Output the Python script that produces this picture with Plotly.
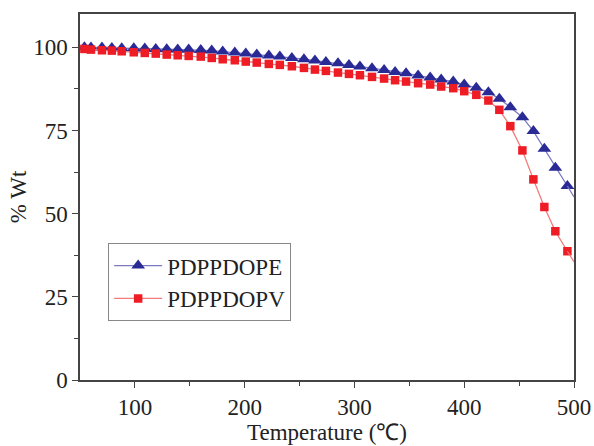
import plotly.graph_objects as go

# Thermogravimetric curves (marker points), temperature in degC
temperature = [54, 60, 70, 79, 88, 99, 109, 119, 129, 139, 149,
               160, 170, 180, 191, 201, 211, 222, 232, 243, 254, 264, 274,
               285, 295, 305, 316, 327, 337,
               347, 358, 369, 379, 390, 400, 411, 422, 432, 442, 453, 463,
               473, 483, 494]

wt_dope = [100.0, 99.9, 99.9, 99.8, 99.7, 99.7, 99.6, 99.5, 99.4, 99.3, 99.3,
           99.2, 99.0, 98.7, 98.4, 98.1, 97.8, 97.5, 97.2, 96.8, 96.4, 96.0, 95.6,
           95.2, 94.7, 94.2, 93.7, 93.2, 92.6,
           92.2, 91.5, 90.9, 90.3, 89.7, 88.8, 87.8, 86.5, 84.5, 82.0, 79.0, 74.8,
           69.5, 63.8, 58.3]

wt_dopv = [99.5, 99.3, 99.1, 99.0, 98.8, 98.5, 98.3, 98.1, 97.8, 97.6, 97.4,
           97.2, 96.8, 96.4, 96.1, 95.7, 95.4, 95.0, 94.7, 94.3, 93.8, 93.3, 92.9,
           92.4, 92.0, 91.6, 91.1, 90.6, 90.1,
           89.7, 89.2, 88.8, 88.2, 87.7, 86.8, 85.7, 84.0, 81.2, 76.3, 69.0, 60.3,
           52.0, 44.7, 38.7]

# curve values at the right end of the temperature range
end_temperature = 500
end_dope = 55.0
end_dopv = 35.5

series_names = ["PDPPDOPE", "PDPPDOPV"]

FONT = "Liberation Serif, Times New Roman, serif"
AXIS_COLOR = "#444444"
TEXT_COLOR = "#222222"

fig = go.Figure()

# PDPPDOPE: light blue line, navy triangles
fig.add_trace(go.Scatter(
    x=temperature, y=wt_dope, name=series_names[0], mode="lines+markers",
    line=dict(color="#7a7ac4", width=1.3),
    marker=dict(symbol="triangle-up", size=12, color="#2a2a96"),
))
fig.add_trace(go.Scatter(
    x=[temperature[-1], end_temperature], y=[wt_dope[-1], end_dope],
    mode="lines", showlegend=False, hoverinfo="skip",
    line=dict(color="#7a7ac4", width=1.3),
))

# PDPPDOPV: light red line, red squares
fig.add_trace(go.Scatter(
    x=temperature, y=wt_dopv, name=series_names[1], mode="lines+markers",
    line=dict(color="#f27a7a", width=1.3),
    marker=dict(symbol="square", size=8.5, color="#ee1c25"),
))
fig.add_trace(go.Scatter(
    x=[temperature[-1], end_temperature], y=[wt_dopv[-1], end_dopv],
    mode="lines", showlegend=False, hoverinfo="skip",
    line=dict(color="#f27a7a", width=1.3),
))

axis_common = dict(
    showgrid=False, zeroline=False, automargin=False,
    showline=True, linecolor=AXIS_COLOR, linewidth=1.5, mirror=True,
    ticks="outside", ticklen=6, tickwidth=1.3, tickcolor=AXIS_COLOR,
    tickfont=dict(family=FONT, size=23, color=TEXT_COLOR),
)

fig.update_xaxes(
    range=[50, 500], tickvals=[100, 200, 300, 400, 500],
    minor=dict(tickvals=[150, 250, 350, 450], ticklen=4, tickcolor=AXIS_COLOR, tickwidth=1.3),
    title=dict(text="Temperature (℃)", font=dict(family=FONT, size=23, color=TEXT_COLOR), standoff=0),
    **axis_common,
)
fig.update_yaxes(
    range=[0, 110], tickvals=[0, 25, 50, 75, 100],
    minor=dict(tickvals=[12.5, 37.5, 62.5, 87.5], ticklen=4, tickcolor=AXIS_COLOR, tickwidth=1.3),
    title=dict(text="% Wt", font=dict(family=FONT, size=23, color=TEXT_COLOR), standoff=0),
    **axis_common,
)

fig.update_layout(
    width=594, height=446,
    margin=dict(l=80, r=20, t=14, b=66),
    paper_bgcolor="white", plot_bgcolor="white",
    showlegend=True,
    legend=dict(
        x=0.057, y=0.374, xanchor="left", yanchor="top",
        bordercolor="#888888", borderwidth=1, bgcolor="white",
        font=dict(family=FONT, size=23, color=TEXT_COLOR),
        itemwidth=48, tracegroupgap=0,
    ),
)

fig.write_html("out.html")
